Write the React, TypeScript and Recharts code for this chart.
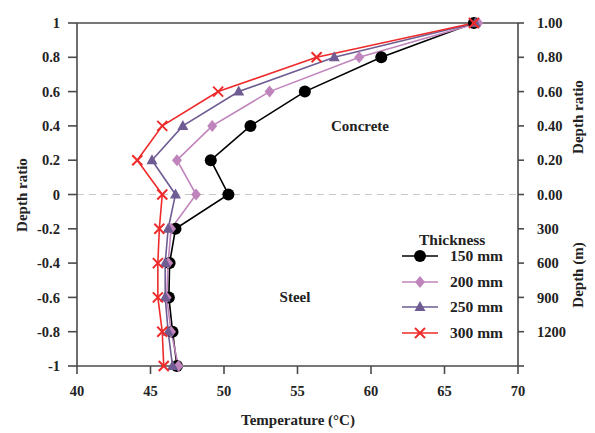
import { LineChart, Line, XAxis, YAxis, ReferenceLine } from 'recharts';

// depth ratio of each measuring point, top of slab (1) down to bottom of pile (-1)
const depths = [1, 0.8, 0.6, 0.4, 0.2, 0, -0.2, -0.4, -0.6, -0.8, -1];

// temperature (°C) per slab thickness
const temp150 = [67.0, 60.7, 55.5, 51.8, 49.1, 50.3, 46.7, 46.3, 46.25, 46.5, 46.8];
const temp200 = [67.3, 59.2, 53.1, 49.2, 46.8, 48.1, 46.4, 46.2, 46.1, 46.4, 46.9];
const temp250 = [67.1, 57.5, 51.0, 47.2, 45.1, 46.7, 46.2, 46.0, 46.0, 46.2, 46.5];
const temp300 = [67.0, 56.3, 49.6, 45.8, 44.1, 45.8, 45.6, 45.5, 45.5, 45.8, 45.9];

const xTicks = [40, 45, 50, 55, 60, 65, 70];
const yTicks = [1, 0.8, 0.6, 0.4, 0.2, 0, -0.2, -0.4, -0.6, -0.8, -1];
const leftLabels = ['1', '0.8', '0.6', '0.4', '0.2', '0', '-0.2', '-0.4', '-0.6', '-0.8', '-1'];
const rightLabels = ['1.00', '0.80', '0.60', '0.40', '0.20', '0.00', '300', '600', '900', '1200', ''];

const rows = depths.map((d, i) => ({
  depth: d,
  t150: temp150[i],
  t200: temp200[i],
  t250: temp250[i],
  t300: temp300[i],
}));

const FONT = '"Liberation Serif", "Times New Roman", serif';
const AXIS = '#4a4a4a';

type Shape = 'circle' | 'diamond' | 'triangle' | 'cross';

const SERIES: { key: string; name: string; color: string; shape: Shape }[] = [
  { key: 't150', name: '150 mm', color: '#000000', shape: 'circle' },
  { key: 't200', name: '200 mm', color: '#c084bd', shape: 'diamond' },
  { key: 't250', name: '250 mm', color: '#6e5c92', shape: 'triangle' },
  { key: 't300', name: '300 mm', color: '#ee2a2a', shape: 'cross' },
];

function Marker({ cx, cy, color, shape }: { cx: number; cy: number; color: string; shape: Shape }) {
  if (shape === 'circle') return <circle cx={cx} cy={cy} r={6} fill={color} />;
  if (shape === 'diamond')
    return <polygon points={`${cx},${cy - 6} ${cx + 5},${cy} ${cx},${cy + 6} ${cx - 5},${cy}`} fill={color} />;
  if (shape === 'triangle')
    return <polygon points={`${cx},${cy - 6} ${cx + 5.5},${cy + 4} ${cx - 5.5},${cy + 4}`} fill={color} />;
  return (
    <g stroke={color} strokeWidth={2}>
      <line x1={cx - 5} y1={cy - 5} x2={cx + 5} y2={cy + 5} />
      <line x1={cx - 5} y1={cy + 5} x2={cx + 5} y2={cy - 5} />
    </g>
  );
}

function LegendBox() {
  return (
    <div style={{ fontFamily: FONT, fontWeight: 'bold', fontSize: 15.5, color: '#222', lineHeight: 1 }}>
      <div style={{ marginLeft: 18, marginBottom: -4.5 }}>Thickness</div>
      {SERIES.map((s) => (
        <div key={s.key} style={{ display: 'flex', alignItems: 'center', height: 25.7 }}>
          <svg width={38} height={16}>
            <line x1={1} y1={8} x2={37} y2={8} stroke={s.color} strokeWidth={1.6} />
            <Marker cx={19} cy={8} color={s.color} shape={s.shape} />
          </svg>
          <span style={{ marginLeft: 11 }}>{s.name}</span>
        </div>
      ))}
    </div>
  );
}

const tickStyle = { fontFamily: FONT, fontWeight: 'bold' as const, fontSize: 14.5, fill: '#222' };

const titleStyle = {
  position: 'absolute' as const,
  fontFamily: FONT,
  fontWeight: 'bold' as const,
  fontSize: 15,
  color: '#222',
  whiteSpace: 'nowrap' as const,
  lineHeight: 1,
};

export default function App() {
  return (
    <div style={{ position: 'absolute', left: 0, top: 0, width: 595, height: 433, background: '#fff' }}>
      <LineChart
        width={595}
        height={433}
        data={rows}
        layout="vertical"
        margin={{ top: 23, right: 0, bottom: 0, left: 0 }}
      >
        <XAxis
          type="number"
          domain={[40, 70]}
          ticks={xTicks}
          tick={tickStyle}
          tickSize={8}
          height={67}
          stroke={AXIS}
          strokeWidth={1.6}
          tickMargin={12}
        />
        <YAxis
          type="number"
          dataKey="depth"
          domain={[-1, 1]}
          reversed
          ticks={yTicks}
          tickFormatter={(v: number) => leftLabels[yTicks.indexOf(v)] ?? ''}
          tick={tickStyle}
          tickSize={9}
          width={77}
          stroke={AXIS}
          strokeWidth={1.6}
          tickMargin={8}
        />
        <YAxis
          yAxisId="right"
          orientation="right"
          type="number"
          dataKey="depth"
          domain={[-1, 1]}
          reversed
          ticks={yTicks}
          tickFormatter={(v: number) => rightLabels[yTicks.indexOf(v)] ?? ''}
          tick={tickStyle}
          tickSize={6}
          width={77}
          stroke={AXIS}
          strokeWidth={1.6}
          tickMargin={13}
        />
        <ReferenceLine y={1} stroke={AXIS} strokeWidth={1.6} />
        <ReferenceLine y={0} stroke="#c8c8c8" strokeDasharray="7 5" />
        {SERIES.map((s) => (
          <Line
            key={s.key}
            dataKey={s.key}
            name={s.name}
            stroke={s.color}
            strokeWidth={1.6}
            isAnimationActive={false}
            dot={(p: any) => <Marker key={`${s.key}-${p.index}`} cx={p.cx} cy={p.cy} color={s.color} shape={s.shape} />}
          />
        ))}
      </LineChart>

      <div style={{ position: 'absolute', left: 401, top: 232 }}>
        <LegendBox />
      </div>

      <div style={{ ...titleStyle, left: 298, top: 420, transform: 'translate(-50%, -50%)' }}>Temperature (°C)</div>
      <div style={{ ...titleStyle, left: 22, top: 195, transform: 'translate(-50%, -50%) rotate(-90deg)' }}>
        Depth ratio
      </div>
      <div style={{ ...titleStyle, left: 578, top: 117, transform: 'translate(-50%, -50%) rotate(-90deg)' }}>
        Depth ratio
      </div>
      <div style={{ ...titleStyle, left: 578, top: 275, transform: 'translate(-50%, -50%) rotate(-90deg)' }}>
        Depth (m)
      </div>
      <div style={{ ...titleStyle, left: 360, top: 126, transform: 'translate(-50%, -50%)' }}>Concrete</div>
      <div style={{ ...titleStyle, left: 295, top: 297, transform: 'translate(-50%, -50%)' }}>Steel</div>
    </div>
  );
}
